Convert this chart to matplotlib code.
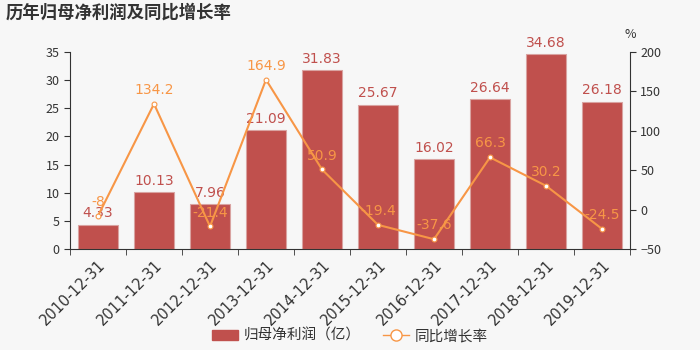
import matplotlib
matplotlib.use("Agg")
import matplotlib.pyplot as plt
import numpy as np
from matplotlib.lines import Line2D
from matplotlib.patches import Patch

plt.rcParams['font.family'] = ['Noto Sans CJK SC', 'DejaVu Sans']

years = ["2010-12-31", "2011-12-31", "2012-12-31", "2013-12-31", "2014-12-31",
         "2015-12-31", "2016-12-31", "2017-12-31", "2018-12-31", "2019-12-31"]
profit = [4.33, 10.13, 7.96, 21.09, 31.83, 25.67, 16.02, 26.64, 34.68, 26.18]
growth = [-8, 134.2, -21.4, 164.9, 50.9, -19.4, -37.6, 66.3, 30.2, -24.5]

BAR_COLOR = "#c0504d"
LINE_COLOR = "#f79646"
BG = "#f7f7f7"
TEXT = "#333333"

fig = plt.figure(figsize=(7, 3.5), dpi=100, facecolor=BG)
ax = fig.add_axes([0.1, 0.2886, 0.8, 0.5628])
ax.set_facecolor(BG)
x = np.arange(len(years))

# bars: net profit
ax.bar(x, profit, width=0.7, color=BAR_COLOR, edgecolor="#d9a3a1", linewidth=0.8, zorder=2)
for xi, v in zip(x, profit):
    ax.annotate(f"{v:g}", (xi, v), xytext=(0, 3), textcoords="offset points",
                ha="center", va="bottom", color=BAR_COLOR, fontsize=10,
                family=['DejaVu Sans'])

ax.set_xlim(-0.5, len(years) - 0.5)
ax.set_ylim(0, 35)
ax.set_yticks(range(0, 36, 5))
ax.set_xticks(x)
ax.set_xticklabels(years, rotation=45, ha="right", rotation_mode="anchor",
                   fontsize=10.5, color=TEXT, family=['DejaVu Sans'])
ax.set_xticks(np.arange(-0.5, len(years), 1), minor=True)
ax.tick_params(axis="x", which="major", length=0, pad=6)
ax.tick_params(axis="x", which="minor", length=4, color=TEXT)
ax.tick_params(axis="y", labelsize=9, colors=TEXT, length=4)
for s in ["top", "right"]:
    ax.spines[s].set_visible(False)
for s in ["left", "bottom"]:
    ax.spines[s].set_color(TEXT)

# line: yoy growth on right axis
ax2 = ax.twinx()
ax2.set_ylim(-50, 200)
ax2.set_yticks(range(-50, 201, 50))
ax2.tick_params(axis="y", labelsize=9, colors=TEXT, length=4)
for s in ["top", "left", "bottom"]:
    ax2.spines[s].set_visible(False)
ax2.spines["right"].set_color(TEXT)
ax2.plot(x, growth, color=LINE_COLOR, linewidth=1.5, marker="o", markersize=3.5,
         markerfacecolor="white", markeredgecolor=LINE_COLOR, markeredgewidth=0.8, zorder=3)
for xi, v in zip(x, growth):
    ax2.annotate(f"{v:g}", (xi, v), xytext=(0, 5), textcoords="offset points",
                 ha="center", va="bottom", color=LINE_COLOR, fontsize=10,
                 family=['DejaVu Sans'])
fig.text(0.9, 0.9, "%", ha="center", va="center", fontsize=9, color=TEXT)

fig.text(0.008, 0.965, "历年归母净利润及同比增长率", ha="left", va="center",
         fontsize=12.5, fontweight="bold", color=TEXT)

handles = [Patch(facecolor=BAR_COLOR, edgecolor=BAR_COLOR),
           Line2D([0], [0], color=LINE_COLOR, marker="o", markersize=8,
                  markerfacecolor="white", markeredgecolor=LINE_COLOR, linewidth=1)]
fig.legend(handles, ["归母净利润（亿）", "同比增长率"], loc="center",
           bbox_to_anchor=(0.5, 0.04), ncol=2, frameon=False, fontsize=10.5,
           handlelength=1.8, columnspacing=1.5, handletextpad=0.4, labelcolor=TEXT)

fig.savefig("out.png", dpi=100, facecolor=BG)
